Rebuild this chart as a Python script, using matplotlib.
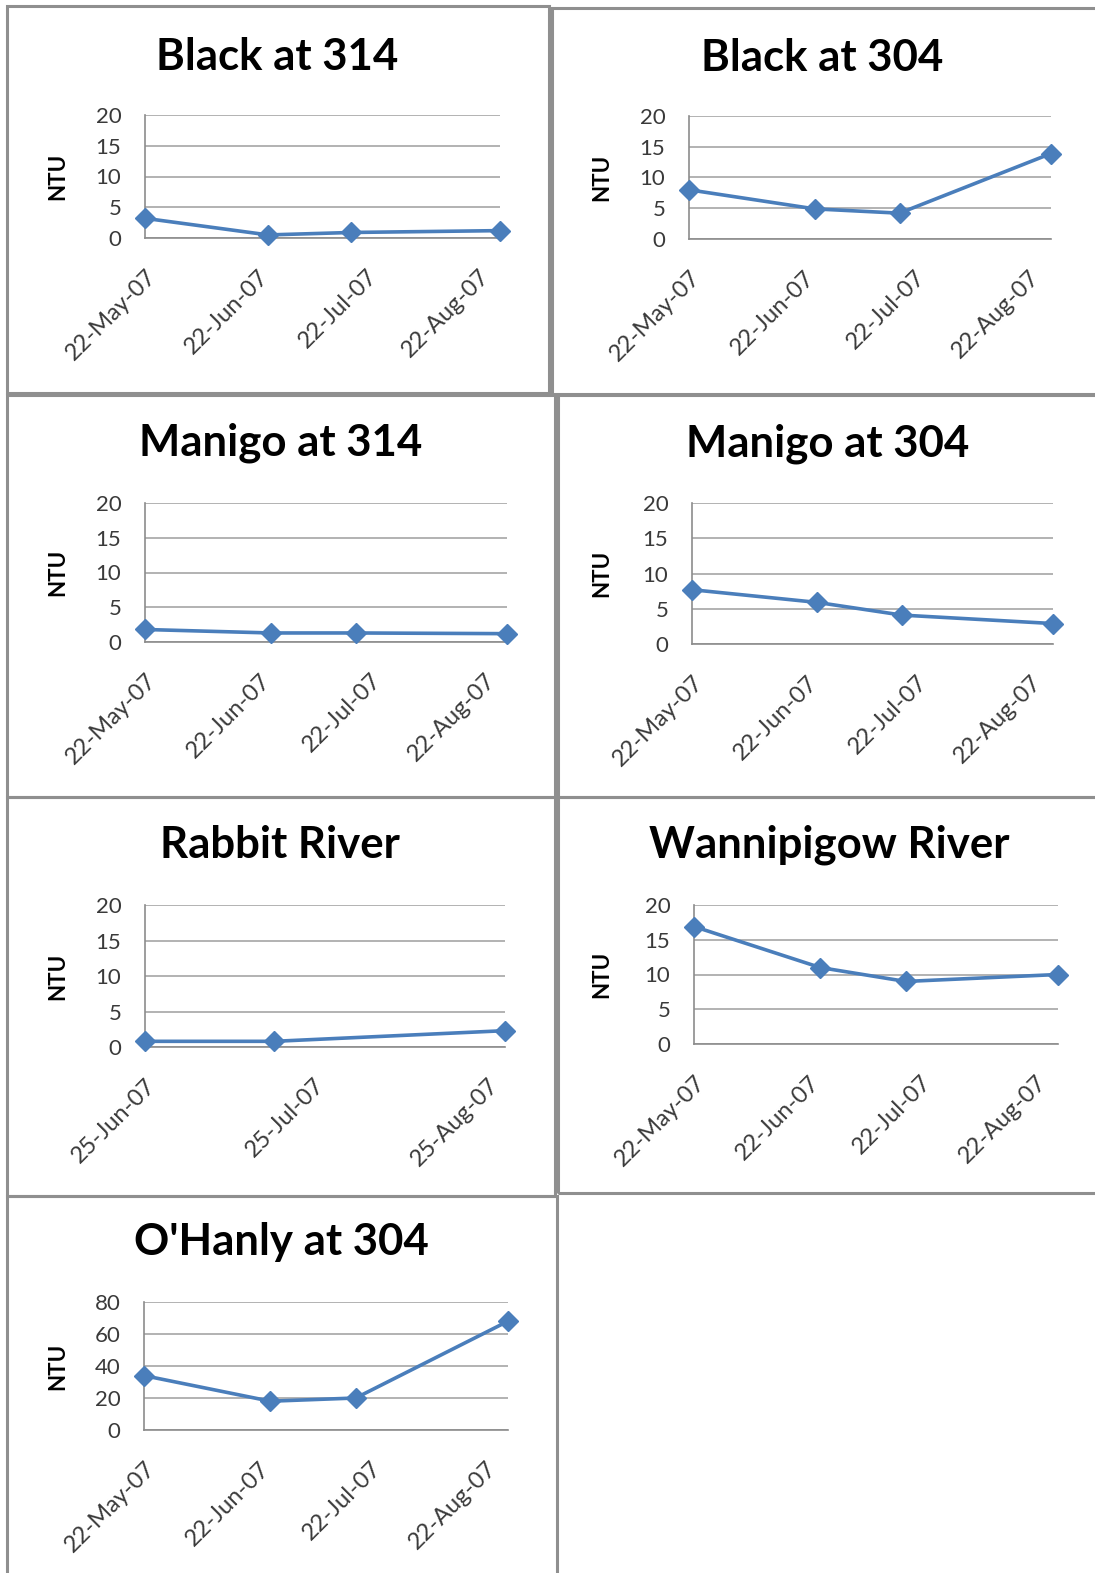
import matplotlib
matplotlib.use("Agg")
import matplotlib.pyplot as plt
import matplotlib.dates as mdates
from matplotlib.patches import Rectangle

plt.rcParams['font.family'] = ['Lato', 'DejaVu Sans']

# ---------------- data ----------------
titles = ["Black at 314", "Black at 304", "Manigo at 314", "Manigo at 304",
          "Rabbit River", "Wannipigow River", "O'Hanly at 304"]

dates_main = ["2007-05-22", "2007-06-25", "2007-07-18", "2007-08-28"]
dates_rabbit = ["2007-06-25", "2007-07-18", "2007-08-28"]

black_314 = [3.2, 0.5, 0.9, 1.2]
black_304 = [8.0, 4.9, 4.2, 13.9]
manigo_314 = [1.8, 1.3, 1.3, 1.2]
manigo_304 = [7.7, 5.9, 4.1, 2.9]
rabbit_river = [0.8, 0.8, 2.3]
wannipigow_river = [16.9, 11.0, 9.0, 10.0]
ohanly_304 = [34, 18, 20, 68]

ticks_main = ["2007-05-22", "2007-06-22", "2007-07-22", "2007-08-22"]
ticks_rabbit = ["2007-06-25", "2007-07-25", "2007-08-25"]

yticks_20 = [0, 5, 10, 15, 20]
yticks_80 = [0, 20, 40, 60, 80]
ylabel = "NTU"

series = [black_314, black_304, manigo_314, manigo_304,
          rabbit_river, wannipigow_river, ohanly_304]
xdates = [dates_main, dates_main, dates_main, dates_main,
          dates_rabbit, dates_main, dates_main]
xticks = [ticks_main, ticks_main, ticks_main, ticks_main,
          ticks_rabbit, ticks_main, ticks_main]
yticks = [yticks_20] * 6 + [yticks_80]

# ---------------- layout (pixels) ----------------
W, H = 1095, 1573
fig = plt.figure(figsize=(W / 100, H / 100), dpi=100)
fig.patch.set_facecolor("white")

# panel borders: x0, y0 (top), x1, y1 (bottom)
panels = [(7, 6, 549, 393), (552, 8, 1098, 394),
          (7, 395, 555, 797), (558, 395, 1098, 797),
          (7, 797, 555, 1196), (558, 797, 1098, 1193),
          (7, 1196, 557, 1578)]
# axes: left, right, top, bottom
axes_px = [(145, 500, 115, 238), (689, 1051, 116, 239),
           (145, 507, 503, 642), (692, 1053, 503, 644),
           (145, 505, 905, 1047), (694, 1058, 905, 1044),
           (144, 508, 1302, 1430)]
title_pos = [(277, 57), (822, 58), (281, 443), (828, 444),
             (280, 845), (829, 845), (281, 1242)]

for (x0, y0, x1, y1) in panels:
    fig.patches.append(Rectangle((x0 / W, 1 - y1 / H), (x1 - x0) / W, (y1 - y0) / H,
                                 transform=fig.transFigure, fill=False,
                                 edgecolor="#8f8f8f", linewidth=2.2, zorder=0))

line_color = "#4a7ebb"
grid_color = "#a6a6a6"

for i in range(7):
    l, r, t, b = axes_px[i]
    ax = fig.add_axes([l / W, 1 - b / H, (r - l) / W, (b - t) / H])
    xd = [mdates.datestr2num(d) for d in xdates[i]]
    ax.plot(xd, series[i], color=line_color, linewidth=2.6, marker="D",
            markersize=10, markerfacecolor=line_color, markeredgecolor=line_color,
            clip_on=False, zorder=5)
    ax.set_xlim(xd[0], xd[-1])
    yt = yticks[i]
    ax.set_ylim(yt[0], yt[-1])
    ax.set_yticks(yt)
    ax.set_yticklabels([str(v) for v in yt])
    xt = [mdates.datestr2num(d) for d in xticks[i]]
    ax.set_xticks(xt)
    ax.set_xticklabels([mdates.num2date(v).strftime("%d-%b-%y") for v in xt],
                       rotation=45, ha="right", va="top", rotation_mode="anchor")
    ax.grid(axis="y", color=grid_color, linewidth=1.2)
    ax.set_axisbelow(True)
    for s in ["top", "right"]:
        ax.spines[s].set_visible(False)
    ax.spines["left"].set_color("#8c8c8c")
    ax.spines["bottom"].set_color("#8c8c8c")
    ax.spines["left"].set_linewidth(1.2)
    ax.spines["bottom"].set_linewidth(1.2)
    ax.tick_params(axis="y", length=0, pad=17, labelsize=16, labelcolor="#3a3a3a")
    ax.tick_params(axis="x", length=0, pad=20, labelsize=17, labelcolor="#3a3a3a")
    tx, ty = title_pos[i]
    fig.text(tx / W, 1 - ty / H, titles[i], ha="center", va="center",
             fontsize=31.5, fontweight="bold", color="black")
    ylab_x = 58 if l < 300 else 602
    fig.text(ylab_x / W, 1 - ((t + b) / 2) / H, ylabel, rotation=90,
             ha="center", va="center", fontsize=16, fontweight="bold", color="black")

fig.savefig("out.png", dpi=100, facecolor="white")
